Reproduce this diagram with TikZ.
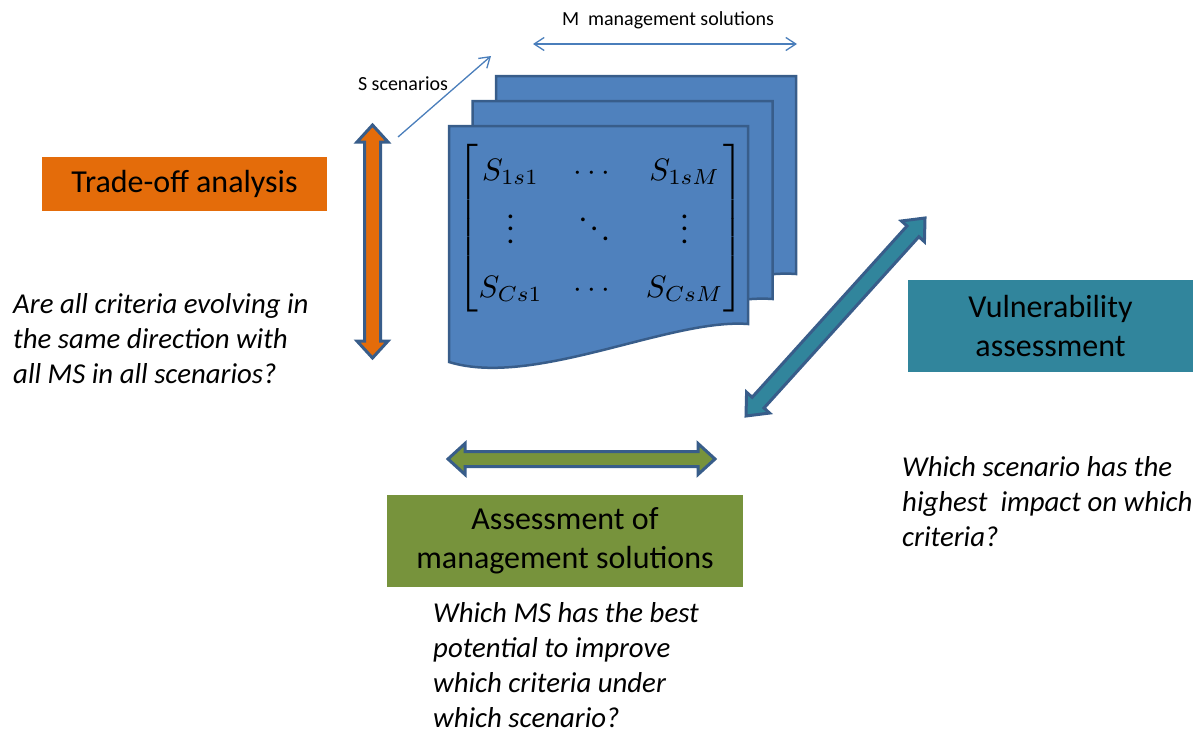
\documentclass[tikz,border=0pt]{standalone}
\usepackage[no-math]{fontspec}
\setmainfont{Carlito}
\usepackage{amsmath}
\usetikzlibrary{calc,arrows.meta}
\definecolor{orng}{HTML}{E46C0A}
\definecolor{tealbox}{HTML}{31859C}
\definecolor{olivebox}{HTML}{77933C}
\definecolor{pageblue}{HTML}{4F81BD}
\definecolor{edgeblue}{HTML}{385D8A}
\definecolor{thinblue}{HTML}{4A7EBB}
\tikzset{
  blockedge/.style={draw=edgeblue, line width=3pt, line join=miter},
  pagestyle/.style={draw=edgeblue, fill=pageblue, line width=2.5pt, line join=miter},
  boxlabel/.style={inner sep=0pt, font=\fontsize{32}{39}\selectfont, align=center, text=black},
  qtext/.style={inner sep=0pt, font=\fontsize{28.8}{35}\selectfont\itshape, align=left},
  smalltext/.style={inner sep=0pt, font=\fontsize{20}{24}\selectfont},
  thinarrow/.style={draw=thinblue, line width=1.3pt, -{Straight Barb[length=10pt,width=13pt]}},
  thindouble/.style={draw=thinblue, line width=1.3pt, {Straight Barb[length=10pt,width=13pt]}-{Straight Barb[length=10pt,width=13pt]}}
}
\newcommand{\blockarr}[6]{%
  \path ($(#1)!#3!(#2)$) coordinate (ba1) ($(#2)!#3!(#1)$) coordinate (bb1);
  \draw[blockedge, fill=#6] (#1) -- ($(ba1)!#4!90:(#2)$) -- ($(ba1)!#5!90:(#2)$)
    -- ($(bb1)!#5!90:(#2)$) -- ($(bb1)!#4!90:(#2)$) -- (#2)
    -- ($(bb1)!#4!-90:(#2)$) -- ($(bb1)!#5!-90:(#2)$)
    -- ($(ba1)!#5!-90:(#2)$) -- ($(ba1)!#4!-90:(#2)$) -- cycle;}
\begin{document}
\begin{tikzpicture}[x=1pt,y=-1pt]
\useasboundingbox (0,0) rectangle (1198,737);

% stacked pages
\begin{scope}[shift={(496,76)}]
  \draw[pagestyle] (0,0) -- (300,0) -- (300,198) .. controls (222,192) and (85,262) .. (0,236) -- cycle;
\end{scope}
\begin{scope}[shift={(472.5,101)}]
  \draw[pagestyle] (0,0) -- (300,0) -- (300,198) .. controls (222,192) and (85,262) .. (0,236) -- cycle;
\end{scope}
\begin{scope}[shift={(449,126)}]
  \draw[pagestyle] (0,0) -- (299,0) -- (299,198) .. controls (221,192) and (85,262) .. (0,236) -- cycle;
\end{scope}

% matrix
\node[scale=3.1, inner sep=0pt] (mat) at (601,228)
  {$\setlength\arraycolsep{5pt}\renewcommand\arraystretch{1.45}\begin{bmatrix} S_{1s1} & \cdots & S_{1sM}\\ \vdots & \ddots & \vdots\\ S_{Cs1} & \cdots & S_{CsM}\end{bmatrix}$};

% thin arrows and labels
\coordinate (sA) at (398,137);
\coordinate (sB) at (491,56);
\draw[thinarrow] (sA) -- (sB);
\node[smalltext] (slab) at (403,84) {S scenarios};
\coordinate (mA) at (533,44);
\coordinate (mB) at (797,44);
\draw[thindouble] (mA) -- (mB);
\node[smalltext] (mlab) at (668,20) {M\ \ management solutions};

% boxes
\node[boxlabel, fill=orng, minimum width=285pt, minimum height=54pt] (trade) at (184.5,184) {Trade-off analysis};
\node[boxlabel, fill=tealbox, minimum width=285pt, minimum height=92pt] (vuln) at (1050.5,326) {Vulnerability\\assessment};
\node[boxlabel, fill=olivebox, minimum width=356pt, minimum height=92pt] (assess) at (565,541) {Assessment of\\management solutions};

% block arrows
\coordinate (oA) at (372.5,125);
\coordinate (oB) at (372.5,358);
\blockarr{oA}{oB}{17pt}{15.5pt}{8pt}{orng}
\coordinate (tA) at (746,416);
\coordinate (tB) at (925,218);
\blockarr{tA}{tB}{18pt}{15.5pt}{8pt}{tealbox}
\coordinate (gA) at (448,459);
\coordinate (gB) at (715,459);
\blockarr{gA}{gB}{17pt}{15.5pt}{7.5pt}{olivebox}

% questions (anchor at baseline of last line)
\node[qtext, anchor=base west] (q1) at (13,383) {Are all criteria evolving in\\the same direction with\\all MS in all scenarios?};
\node[qtext, anchor=base west] (q2) at (902,546) {Which scenario has the\\highest\ \ impact on which\\criteria?};
\node[qtext, anchor=base west] (q3) at (433,727) {Which MS has the best\\potential to improve\\which criteria under\\which scenario?};
\end{tikzpicture}
\end{document}
